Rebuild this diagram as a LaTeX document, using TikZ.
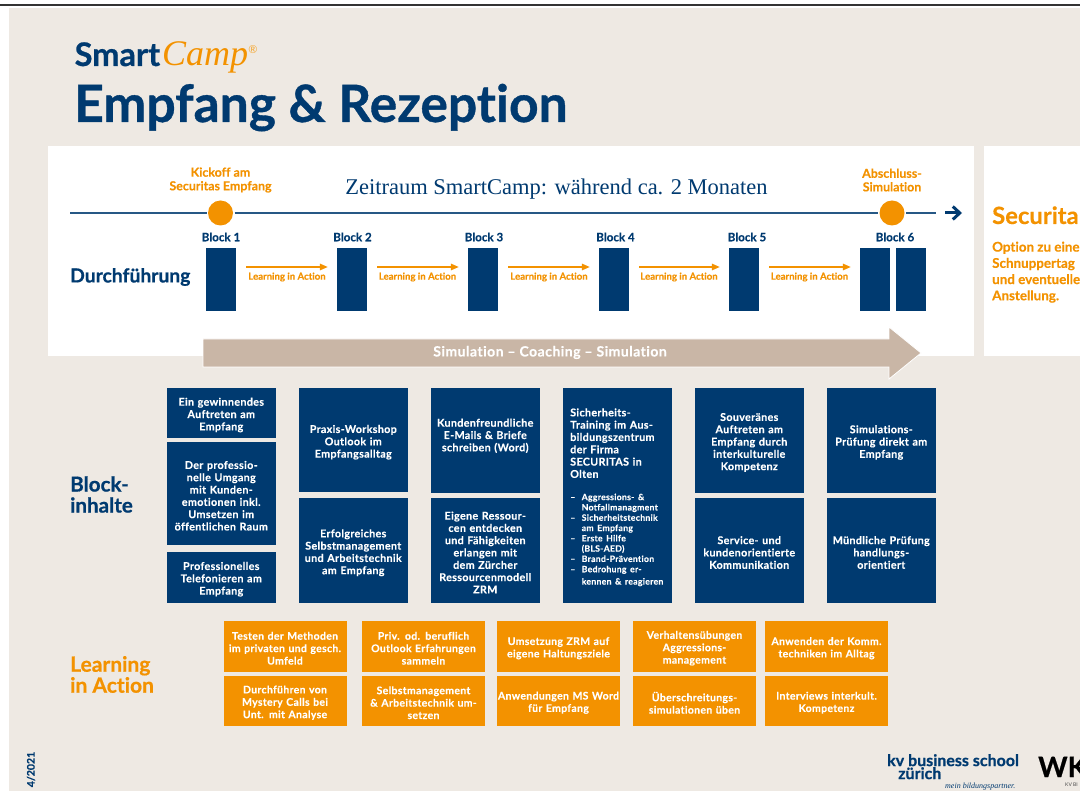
\documentclass[tikz,border=0pt]{standalone}
\usepackage{fontspec}
\usetikzlibrary{arrows.meta}
\setmainfont[Ligatures=NoCommon,BoldFeatures={FakeBold=0.25}]{Lato}
\newfontfamily\serifx{Liberation Serif}
\newfontfamily\boxf[LetterSpace=3,Ligatures=NoCommon,BoldFeatures={FakeBold=0.15}]{Lato}
\newfontfamily\heavyf[Ligatures=NoCommon,BoldFeatures={FakeBold=0.7}]{Lato}
\definecolor{navy}{HTML}{003A70}
\definecolor{orangex}{HTML}{F39200}
\definecolor{beigex}{HTML}{EEE9E3}
\definecolor{taupe}{HTML}{C9B6A6}
\definecolor{barx}{HTML}{333333}
\newcommand\fsz[2]{\fontsize{#1}{#2}\selectfont}
\tikzset{
  nbox/.style={fill=navy,draw=none,text=white,inner sep=0pt,align=center,text width=108pt,font=\boxf\bfseries\fsz{10.75}{12.3},execute at end node={\par\kern-4pt}},
  obox/.style={fill=orangex,draw=none,text=white,inner sep=0pt,align=center,text width=122pt,minimum width=123pt,minimum height=50.5pt,font=\boxf\bfseries\fsz{10.5}{12.4},execute at end node={\par\kern-4pt}},
  blockbox/.style={fill=navy,draw=none,inner sep=0pt,minimum width=30pt,minimum height=63pt},
  blocklbl/.style={text=navy,font=\bfseries\fsz{11.6}{13},inner sep=0pt},
  olabel/.style={text=orangex,font=\bfseries\fsz{12.4}{13.6},inner sep=0pt,align=center},
  head/.style={text=navy,font=\heavyf\bfseries\fsz{20.6}{21},inner sep=0pt,align=left,anchor=west},
  lia/.style={text=orangex,font=\bfseries\fsz{9.6}{10},inner sep=0pt},
  oarrow/.style={draw=orangex,line width=1.6pt,-{Triangle[length=8pt,width=6.5pt]},shorten <=10pt,shorten >=9pt},
  tline/.style={draw=navy!85!white,line width=1.6pt},
  dot/.style={circle,fill=orangex,draw=none,minimum size=25pt,inner sep=0pt,outer sep=1.5pt},
}
\begin{document}
\begin{tikzpicture}[x=1pt,y=-1pt]
\useasboundingbox (0,0) rectangle (1080,791);
\fill[white] (0,0) rectangle (1080,791);
\fill[beigex] (9,8) rectangle (1080,791);
\fill[barx] (0,4) rectangle (1080,6);
\fill[white] (48,146) rectangle (974,356);
\fill[white] (984,146) rectangle (1080,356);

% title
\node[anchor=base west,inner sep=0pt,text=navy,font=\heavyf\bfseries\fsz{32.5}{33}] (smart) at (74.5,66) {Smart};
\node[anchor=base west,inner sep=0pt,text=orangex,font=\serifx\itshape\fsz{36}{38}] (camp) at (162,66) {Camp};
\node[anchor=center,inner sep=0pt,text=orangex!80!white,font=\fsz{11}{12}] (reg) at (253,50) {®};
\node[anchor=base west,inner sep=0pt,text=navy,font=\heavyf\bfseries\fsz{51.5}{54}] (title) at (74,122) {Empfang \& Rezeption};

% timeline
\coordinate (tstart) at (70,213);
\coordinate (tend) at (936,213);
\coordinate (astart) at (945,213);
\coordinate (aend) at (962,213);
\node[dot] (kick) at (220.5,213) {};
\node[dot] (absch) at (892,213) {};
\draw[tline] (tstart) -- (kick);
\draw[tline] (kick) -- (absch);
\draw[tline] (absch) -- (tend);
\draw[navy,line width=3pt,-{Straight Barb[length=7pt,width=13pt]}] (astart) -- (aend);
\node[olabel] (kicklbl) at (220.5,180) {Kickoff am\\Securitas Empfang};
\node[olabel] (abschlbl) at (892,180) {Abschluss-\\Simulation};
\node[text=navy,inner sep=0pt,font=\serifx\fsz{22.5}{24}] (zeit) at (556.5,189.5) {Zeitraum SmartCamp: während ca. 2 Monaten};

% blocks
\node[blockbox] (b1) at (221,279.5) {};
\node[blockbox] (b2) at (352,279.5) {};
\node[blockbox] (b3) at (483,279.5) {};
\node[blockbox] (b4) at (614,279.5) {};
\node[blockbox] (b5) at (744,279.5) {};
\node[blockbox] (b6a) at (875,279.5) {};
\node[blockbox] (b6b) at (911,279.5) {};
\node[blocklbl] (l1) at (221,237) {Block 1};
\node[blocklbl] (l2) at (352.5,237) {Block 2};
\node[blocklbl] (l3) at (484,237) {Block 3};
\node[blocklbl] (l4) at (615.5,237) {Block 4};
\node[blocklbl] (l5) at (747,237) {Block 5};
\node[blocklbl] (l6) at (895,237) {Block 6};
\draw[oarrow] ([yshift=12.5pt]b1.east) -- ([yshift=12.5pt]b2.west);
\draw[oarrow] ([yshift=12.5pt]b2.east) -- ([yshift=12.5pt]b3.west);
\draw[oarrow] ([yshift=12.5pt]b3.east) -- ([yshift=12.5pt]b4.west);
\draw[oarrow] ([yshift=12.5pt]b4.east) -- ([yshift=12.5pt]b5.west);
\draw[oarrow] ([yshift=12.5pt]b5.east) -- ([yshift=12.5pt]b6a.west);
\node[lia] (a1) at (287,277) {Learning in Action};
\node[lia] (a2) at (417.5,277) {Learning in Action};
\node[lia] (a3) at (549,277) {Learning in Action};
\node[lia] (a4) at (679,277) {Learning in Action};
\node[lia] (a5) at (809.5,277) {Learning in Action};

% big arrow
\draw[fill=taupe,draw=white,line width=0.8pt] (203,339) -- (889,339) -- (889,327) -- (921,353) -- (889,379) -- (889,367) -- (203,367) -- cycle;
\node[text=white,inner sep=0pt,font=\boxf\bfseries\fsz{14.1}{15}] (sim) at (550,352.5) {Simulation – Coaching – Simulation};

% row labels
\node[head,font=\heavyf\bfseries\fsz{19.3}{21}] (durch) at (70,277) {Durchführung};
\node[head] (binh) at (70,494.5) {Block-\\inhalte};
\node[head,text=orangex,font=\heavyf\bfseries\fsz{21}{21}] (lact) at (70,674.5) {Learning\\in Action};

% Block contents
\node[nbox,minimum width=109.5pt,minimum height=50pt] (c1a) at (221.25,413) {Ein gewinnendes\\Auftreten am\\Empfang};
\node[nbox,minimum width=109.5pt,minimum height=102.5pt] (c1b) at (221.25,493.75) {Der professio-\\nelle Umgang\\mit Kunden-\\emotionen inkl.\\Umsetzen im\\öffentlichen Raum};
\node[nbox,minimum width=109.5pt,minimum height=50.5pt] (c1c) at (221.25,577.25) {Professionelles\\Telefonieren am\\Empfang};
\node[nbox,minimum width=109.5pt,minimum height=104.5pt] (c2a) at (353.25,440.25) {Praxis-Workshop\\Outlook im\\Empfangsalltag};
\node[nbox,minimum width=109.5pt,minimum height=104.5pt] (c2b) at (353.25,550.75) {Erfolgreiches\\Selbstmanagement\\und Arbeitstechnik\\am Empfang};
\node[nbox,minimum width=109.5pt,minimum height=105pt] (c3a) at (485.25,440.5) {Kundenfreundliche\\E-Mails \& Briefe\\schreiben (Word)\\[2.7pt]\hphantom{x}};
\node[nbox,minimum width=109.5pt,minimum height=104pt] (c3b) at (485.25,550.5) {Eigene Ressour-\\cen entdecken\\und Fähigkeiten\\erlangen mit\\dem Zürcher\\Ressourcenmodell\\ZRM};
\node[nbox,minimum width=109.5pt,minimum height=214.5pt,align=left,text width=94pt] (c4) at (617.25,495.25) {Sicherheits-\\Training im Aus-\\bildungszentrum\\der Firma\\SECURITAS in\\Olten\\[12pt]
\fsz{8.7}{10.3}\makebox[11.5pt][l]{–}Aggressions- \&\\\hspace*{11.5pt}Notfallmanagment\\\makebox[11.5pt][l]{–}Sicherheitstechnik\\\hspace*{11.5pt}am Empfang\\\makebox[11.5pt][l]{–}Erste Hilfe\\\hspace*{11.5pt}(BLS-AED)\\\makebox[11.5pt][l]{–}Brand-Prävention\\\makebox[11.5pt][l]{–}Bedrohung er-\\\hspace*{11.5pt}kennen \& reagieren};
\node[nbox,minimum width=109.5pt,minimum height=105pt] (c5a) at (749.25,440.5) {Souveränes\\Auftreten am\\Empfang durch\\interkulturelle\\Kompetenz};
\node[nbox,minimum width=109.5pt,minimum height=104pt] (c5b) at (749.25,550.5) {Service- und\\kundenorientierte\\Kommunikation};
\node[nbox,minimum width=109.5pt,minimum height=105pt] (c6a) at (881.25,440.5) {Simulations-\\Prüfung direkt am\\Empfang};
\node[nbox,minimum width=109.5pt,minimum height=104pt] (c6b) at (881.25,550.5) {Mündliche Prüfung\\handlungs-\\orientiert};

% Learning in Action boxes
\node[obox] (o1a) at (285,646.25) {Testen der Methoden\\im privaten und gesch.\\Umfeld};
\node[obox] (o1b) at (285,700.75) {Durchführen von\\Mystery Calls bei\\Unt. mit Analyse};
\node[obox] (o2a) at (423.5,646.25) {Priv. od. beruflich\\Outlook Erfahrungen\\sammeln};
\node[obox] (o2b) at (423.5,700.75) {Selbstmanagement\\\& Arbeitstechnik um-\\setzen};
\node[obox] (o3a) at (558.5,646.25) {Umsetzung ZRM auf\\eigene Haltungsziele};
\node[obox] (o3b) at (558.5,700.75) {\makebox[\linewidth][c]{Anwendungen MS Word}\\für Empfang};
\node[obox] (o4a) at (694.5,646.25) {Verhaltensübungen\\Aggressions-\\management};
\node[obox] (o4b) at (694.5,700.75) {Überschreitungs-\\simulationen üben};
\node[obox] (o5a) at (826.5,646.25) {Anwenden der Komm.\\techniken im Alltag};
\node[obox] (o5b) at (826.5,700.75) {Interviews interkult.\\Kompetenz};

% Securitas panel
\node[anchor=base west,inner sep=0pt,text=orangex,font=\bfseries\fsz{23.8}{25}] (sec) at (992,224) {Securita};
\node[anchor=north west,inner sep=0pt,text=orangex,align=left,font=\bfseries\fsz{13.4}{16.2}] (opt) at (992,241.5) {Option zu eine\\Schnuppertag\\und eventuelle\\Anstellung.};

% footer
\node[rotate=90,inner sep=0pt,text=navy,font=\bfseries\fsz{10.5}{12}] (date) at (31,769.5) {4/2021};
\node[anchor=north west,inner sep=0pt,text=navy,align=left,font=\heavyf\bfseries\fsz{16}{13}] (kv) at (887,754) {kv business school\\\hspace*{11pt}zürich};
\node[anchor=base west,inner sep=0pt,text=navy,font=\serifx\itshape\fsz{8}{10}] (mein) at (945,788) {mein bildungspartner.};
\node[anchor=base west,inner sep=0pt,text=black,font=\heavyf\bfseries\fsz{28}{30}] (wk) at (1038,777) {WK};
\node[anchor=base west,inner sep=0pt,text=black!70,font=\fsz{5}{6}] (kvb) at (1065,786) {KV BI};
\end{tikzpicture}
\end{document}
